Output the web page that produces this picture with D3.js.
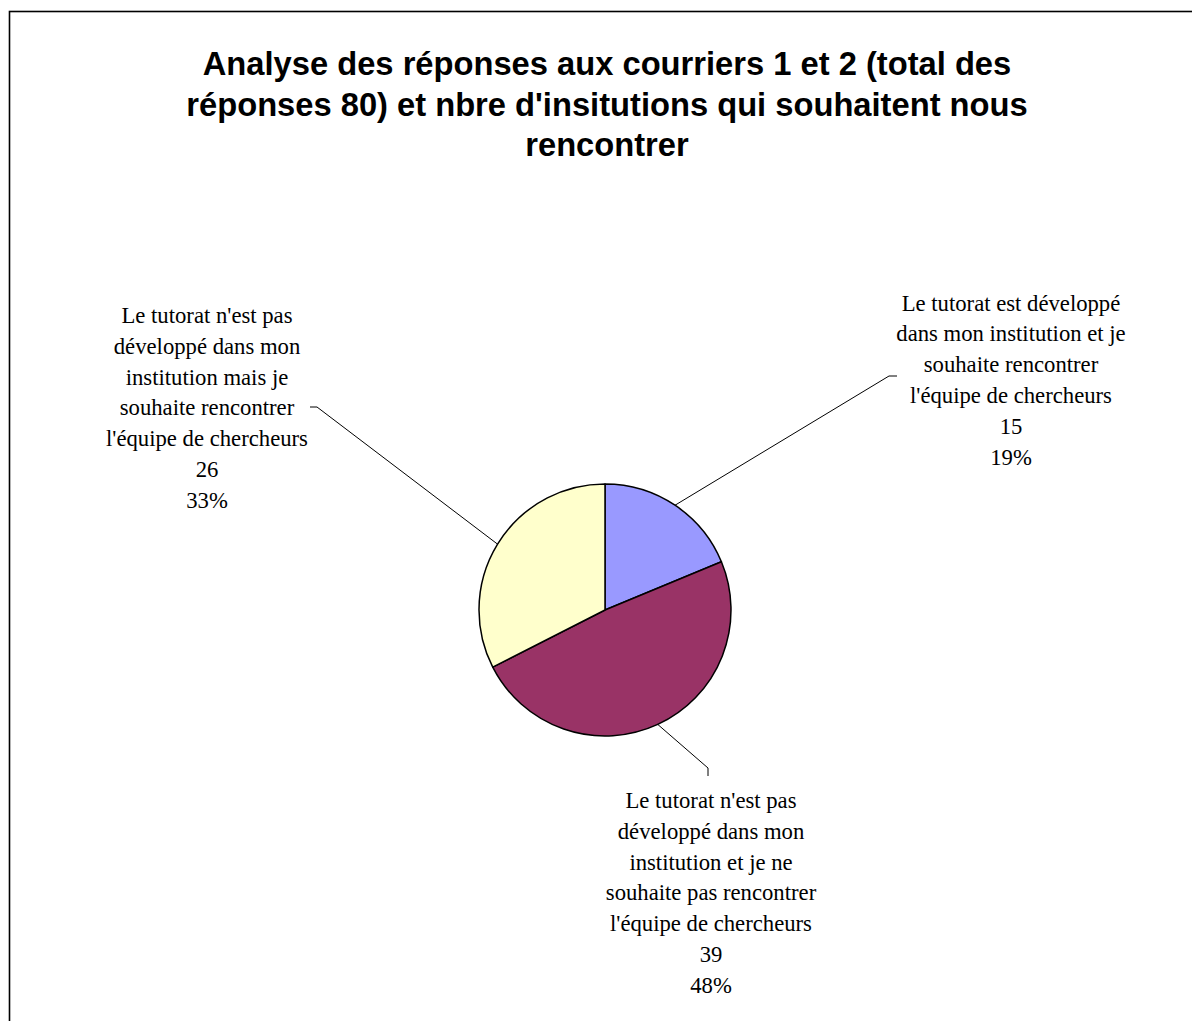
<!DOCTYPE html>
<html>
<head>
<meta charset="utf-8">
<script src="https://cdn.jsdelivr.net/npm/d3@7"></script>
<style>
  html, body { margin: 0; padding: 0; background: #fff; overflow: hidden; }
</style>
</head>
<body>
<div id="chart"></div>
<script>
// title lines as they wrap in the picture
const titleLines = [
  "Analyse des réponses aux courriers 1 et 2 (total des",
  "réponses 80) et nbre d'insitutions qui souhaitent nous",
  "rencontrer"
]

// categories, one array of text lines each
const categories = [
  ["Le tutorat est développé", "dans mon institution et je", "souhaite rencontrer", "l'équipe de chercheurs"],
  ["Le tutorat n'est pas", "développé dans mon", "institution et je ne", "souhaite pas rencontrer", "l'équipe de chercheurs"],
  ["Le tutorat n'est pas", "développé dans mon", "institution mais je", "souhaite rencontrer", "l'équipe de chercheurs"]
]
const values = [15, 39, 26]
const percents = ["19%", "48%", "33%"]
const colors = ["#9999FF", "#993366", "#FFFFCC"]

const width = 1192
const height = 1021

// pie position and size
const cx = 605, cy = 610, radius = 126
const lineH = 30.8

// where each label sits: center x, first baseline, elbow of the leader line
const labelLayout = [
  { x: 1011, y: 310.5, elbow: [889, 376], end: [897, 376] },
  { x: 711, y: 808, elbow: [708, 768], end: [708, 776] },
  { x: 207, y: 323, elbow: [317, 407], end: [310, 407] }
]

let svg = d3.select("#chart")
  .append("svg")
  .attr("width", width)
  .attr("height", height)

// outer frame, runs off the right and bottom edge
svg.append("rect")
  .attr("x", 9.5)
  .attr("y", 11.5)
  .attr("width", 1300)
  .attr("height", 1200)
  .attr("fill", "none")
  .attr("stroke", "#000")
  .attr("stroke-width", 1.6)

// title
svg.append("g")
  .selectAll("text")
  .data(titleLines)
  .enter().append("text")
  .attr("x", 607)
  .attr("y", (d, i) => 75 + i * 40.5)
  .attr("text-anchor", "middle")
  .style("font-family", "'Liberation Sans', Arial, sans-serif")
  .style("font-weight", "bold")
  .style("font-size", "32.7px")
  .text(d => d)

let pie = d3.pie().sort(null).value(d => d)
let arcs = pie(values)
let arc = d3.arc().innerRadius(0).outerRadius(radius)

let g = svg.append("g").attr("transform", `translate(${cx},${cy})`)

g.selectAll("path")
  .data(arcs)
  .enter().append("path")
  .attr("d", arc)
  .attr("fill", (d, i) => colors[i])
  .attr("stroke", "#000")
  .attr("stroke-width", 1.5)
  .attr("stroke-linejoin", "round")

// leader lines, from the arc edge at mid angle to the label
svg.append("g")
  .selectAll("polyline")
  .data(arcs)
  .enter().append("polyline")
  .attr("points", (d, i) => {
    const a = (d.startAngle + d.endAngle) / 2
    const p0 = [cx + radius * Math.sin(a), cy - radius * Math.cos(a)]
    const L = labelLayout[i]
    return [p0, L.elbow, L.end].map(p => p.join(",")).join(" ")
  })
  .attr("fill", "none")
  .attr("stroke", "#000")
  .attr("stroke-width", 1)

// data labels: category, value, percentage
let labels = svg.append("g")
  .selectAll("text")
  .data(arcs)
  .enter().append("text")
  .attr("text-anchor", "middle")
  .style("font-family", "'Liberation Serif', 'Times New Roman', serif")
  .style("font-size", "22.7px")
  .attr("fill", "#000")

labels.each(function(d, i) {
  const L = labelLayout[i]
  const lines = categories[i].concat([String(values[i]), percents[i]])
  d3.select(this).selectAll("tspan")
    .data(lines)
    .enter().append("tspan")
    .attr("x", L.x)
    .attr("y", (t, j) => L.y + j * lineH)
    .text(t => t)
})
</script>
</body>
</html>
